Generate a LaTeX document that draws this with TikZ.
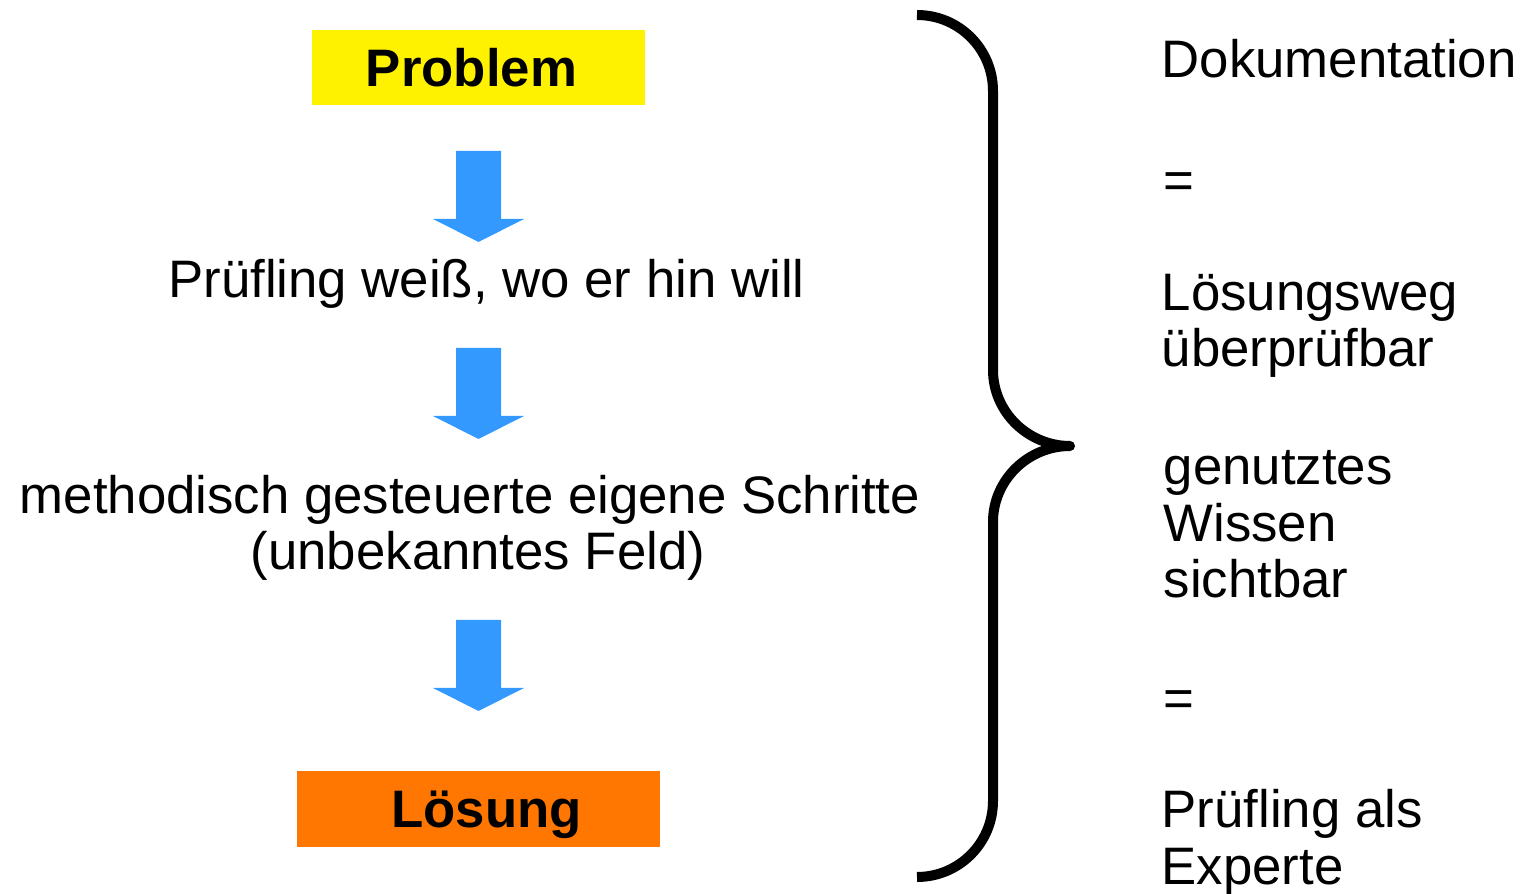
\documentclass[tikz,border=0pt]{standalone}
\usepackage{fontspec}
\setmainfont{Liberation Sans}
\usepackage{xcolor}
\usepackage{tikz}
\usetikzlibrary{positioning}
\definecolor{probyellow}{RGB}{255,242,0}
\definecolor{solorange}{RGB}{255,119,0}
\definecolor{flowblue}{RGB}{51,153,255}

\begin{document}
\begin{tikzpicture}[
    x=0.01cm, y=-0.01cm,
    font=\fontsize{15}{16.2}\selectfont,
    box/.style={inner sep=0pt, minimum height=0.75cm, font=\fontsize{15}{16.2}\selectfont\bfseries},
    txt/.style={inner sep=0pt, anchor=base},
    side/.style={inner sep=0pt, anchor=base west, align=left},
    blockarrow/.style={fill=flowblue, draw=none},
    brace/.style={line width=0.1cm, line join=round, line cap=butt}
]
\useasboundingbox (0,0) rectangle (1535,894);

\node[box, fill=probyellow, minimum width=3.33cm] (problem) at (478.5,67.5) {\hspace*{-0.14cm}Problem};
\node[txt] (ziel) at (486.5,298) {Prüfling weiß, wo er hin will};
\node[txt, align=center] (schritte) at (470,570) {methodisch gesteuerte eigene Schritte\\\hspace*{0.16cm}(unbekanntes Feld)};
\node[box, fill=solorange, minimum width=3.63cm, text depth=0pt] (loesung) at (478.5,809) {\hspace*{0.16cm}Lösung};

\foreach \t in {151,348,620}
    \fill[blockarrow] (456,\t) -- (501,\t) -- (501,\t+68) -- (524,\t+68) -- (478.5,\t+91)
        -- (433,\t+68) -- (456,\t+68) -- cycle;

\draw[brace] (917,15) .. controls (959,15) and (993,49) .. (993,91) -- (993,370)
    .. controls (993,412) and (1028,446) .. (1070,446)
    .. controls (1028,446) and (993,480) .. (993,522) -- (993,801)
    .. controls (993,843) and (959,877) .. (917,877);

\node[side] (doku) at (1161,78) {Dokumentation};
\node[side] (gleich1) at (1163,199) {=};
\node[side] (weg) at (1161,367) {Lösungsweg\\überprüfbar};
\node[side] (wissen) at (1163,598) {genutztes\\Wissen\\sichtbar};
\node[side] (gleich2) at (1163,717) {=};
\node[side] (experte) at (1161,884) {Prüfling als\\Experte};
\end{tikzpicture}
\end{document}
